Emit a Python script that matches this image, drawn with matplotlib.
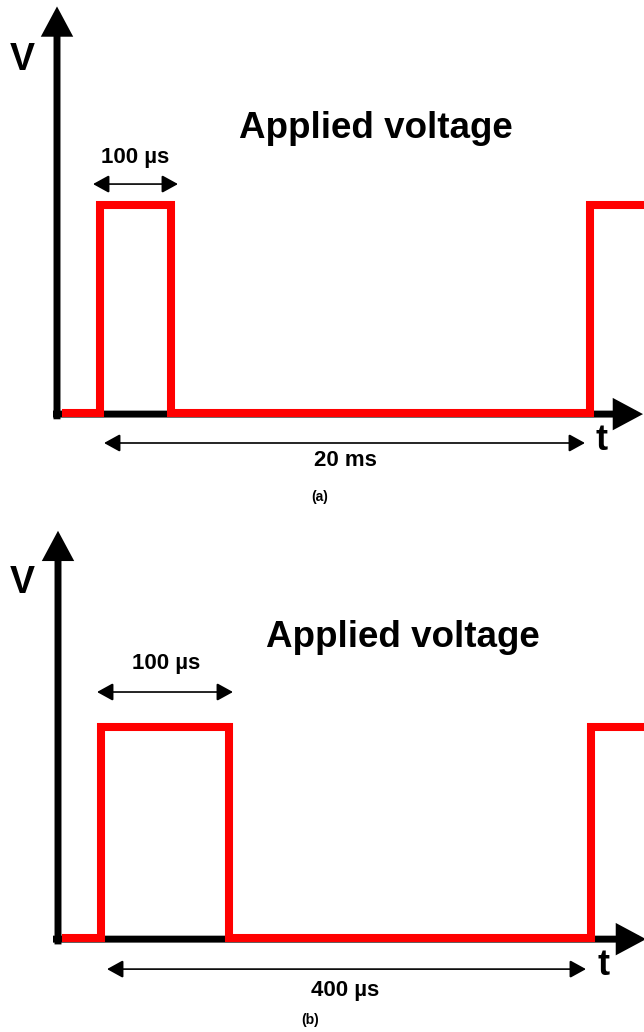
import matplotlib
matplotlib.use('Agg')
import matplotlib.pyplot as plt
from matplotlib.patches import ArrowStyle

plt.rcParams['font.family'] = ['Liberation Sans', 'DejaVu Sans']

# ---- data (schematic waveform: horizontal position, voltage level) ----
wave_a_t = [62, 100, 100, 171, 171, 590, 590, 644]
wave_a_v = [0, 0, 1, 1, 0, 0, 1, 1]
wave_b_t = [62, 101, 101, 229, 229, 591, 591, 644]
wave_b_v = [0, 0, 1, 1, 0, 0, 1, 1]
title_text = 'Applied voltage'
pulse_label = '100 µs'
period_labels = ['20 ms', '400 µs']
panel_labels = ['(a)', '(b)']
axis_labels = ['V', 't']

W, H = 644, 1032
fig = plt.figure(figsize=(W / 100, H / 100), dpi=100)

RED = '#ff0000'

panels = [
    dict(rect=[0, 0.5, 1, 0.5], ylim=(-0.495, 1.986), t=wave_a_t, v=wave_a_v,
         yaxis_x=57, ytip=1.955, xtip=643,
         V=(22, 1.697), title=(376, 1.370),
         plabel=(135, 1.231), parrow=(93, 178, 1.101),
         tlab=(602, -0.130), per=(104, 585, -0.144), perlab=(345, -0.226),
         panel=(320, -0.404), period=period_labels[0], name=panel_labels[0]),
    dict(rect=[0, 0.0, 1, 0.5], ylim=(-0.445, 2.0), t=wave_b_t, v=wave_b_v,
         yaxis_x=58, ytip=1.93, xtip=646,
         V=(22, 1.682), title=(403, 1.422),
         plabel=(166, 1.303), parrow=(97, 233, 1.166),
         tlab=(604, -0.128), per=(107, 586, -0.147), perlab=(345, -0.246),
         panel=(310, -0.389), period=period_labels[1], name=panel_labels[1]),
]

for p in panels:
    ax = fig.add_axes(p['rect'])
    ax.set_xlim(0, W)
    ax.set_ylim(*p['ylim'])
    ax.axis('off')

    axis_style = ArrowStyle('-|>', head_length=14, head_width=7.5)
    axprops = dict(arrowstyle=axis_style, lw=5, color='black', shrinkA=0,
                   shrinkB=0, mutation_scale=1, joinstyle='miter',
                   capstyle='butt')
    # y axis
    ax.annotate('', xy=(p['yaxis_x'], p['ytip']), xytext=(p['yaxis_x'], -0.03),
                arrowprops=axprops, annotation_clip=False)
    # x axis
    ax.annotate('', xy=(p['xtip'], -0.005), xytext=(53, -0.005),
                arrowprops=axprops, annotation_clip=False)

    # waveform
    ax.plot(p['t'], p['v'], color=RED, lw=5.8, solid_joinstyle='miter',
            solid_capstyle='butt', zorder=5)

    dim_style = ArrowStyle('<|-|>', head_length=10, head_width=5.5)
    dprops = dict(arrowstyle=dim_style, lw=1.2, color='black', shrinkA=0,
                  shrinkB=0, mutation_scale=1, joinstyle='miter')
    x0, x1, yy = p['parrow']
    ax.annotate('', xy=(x1, yy), xytext=(x0, yy), arrowprops=dprops,
                annotation_clip=False)
    x0, x1, yy = p['per']
    ax.annotate('', xy=(x1, yy), xytext=(x0, yy), arrowprops=dprops,
                annotation_clip=False)

    ax.text(*p['V'], axis_labels[0], fontsize=27, fontweight='bold',
            ha='center', va='center')
    ax.text(*p['tlab'], axis_labels[1], fontsize=26, fontweight='bold',
            ha='center', va='center')
    ax.text(*p['title'], title_text, fontsize=26.5, fontweight='bold',
            ha='center', va='center')
    ax.text(*p['plabel'], pulse_label, fontsize=16, fontweight='bold',
            ha='center', va='center')
    ax.text(*p['perlab'], p['period'], fontsize=16, fontweight='bold',
            ha='center', va='center')
    ax.text(*p['panel'], p['name'], fontsize=10, fontweight='bold',
            ha='center', va='center')

fig.savefig('out.png', dpi=100, facecolor='white')
